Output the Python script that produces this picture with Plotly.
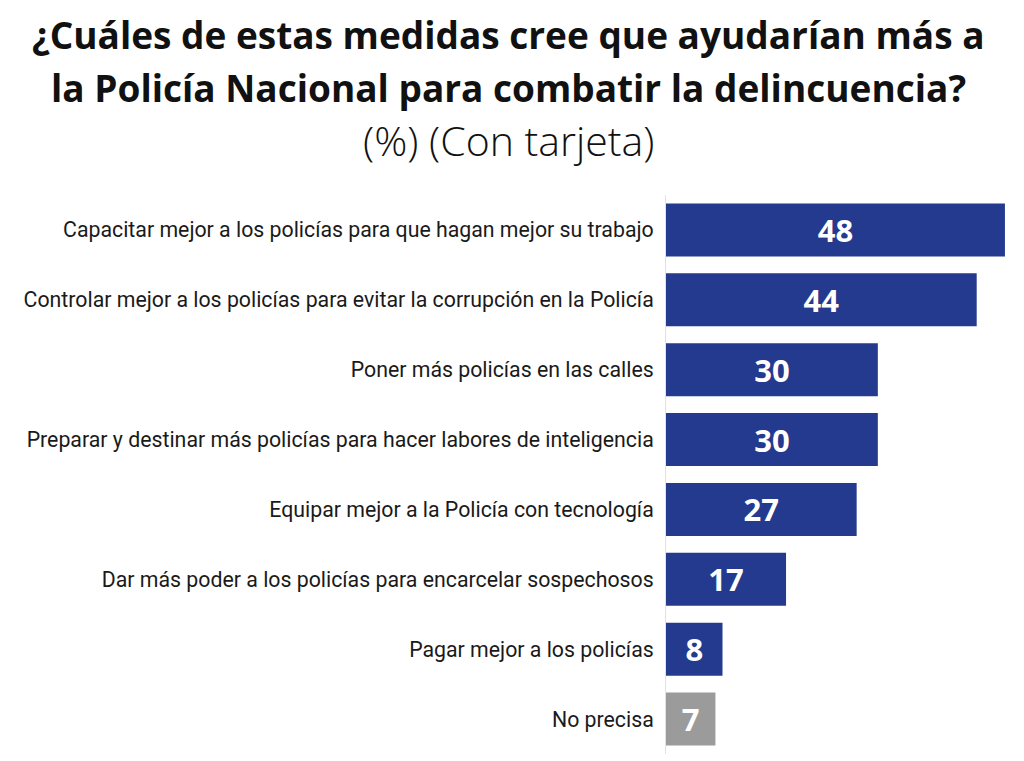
import plotly.graph_objects as go

# Survey answers (top to bottom as shown)
medidas = [
    "Capacitar mejor a los policías para que hagan mejor su trabajo",
    "Controlar mejor a los policías para evitar la corrupción en la Policía",
    "Poner más policías en las calles",
    "Preparar y destinar más policías para hacer labores de inteligencia",
    "Equipar mejor a la Policía con tecnología",
    "Dar más poder a los policías para encarcelar sospechosos",
    "Pagar mejor a los policías",
    "No precisa",
]
porcentajes = [48, 44, 30, 30, 27, 17, 8, 7]

title_lines = [
    "<b>¿Cuáles de estas medidas cree que ayudarían más a</b>",
    "<b>la Policía Nacional para combatir la delincuencia?</b>",
    "(%) (Con tarjeta)",
]

blue = "#233a8e"
gray = "#9b9b9b"
bar_colors = [gray if m == "No precisa" else blue for m in medidas]

fig = go.Figure()
fig.add_trace(go.Bar(
    x=porcentajes,
    y=medidas,
    orientation="h",
    marker=dict(color=bar_colors, line=dict(width=0)),
    text=[str(v) for v in porcentajes],
    textposition="inside",
    insidetextanchor="middle",
    textangle=0,
    textfont=dict(family="Open Sans", size=31, color="white", weight="bold"),
    hoverinfo="skip",
))

# page has an 8px body margin, so the figure itself starts at (8, 8)
top_px, bot_px = 187, 746
title_y_px = [27, 80, 132]
title_sizes = [37, 37, 41]
title_weights = ["bold", "bold", 300]
annotations = []
for line, ypx, size, w in zip(title_lines, title_y_px, title_sizes, title_weights):
    annotations.append(dict(
        text=line,
        xref="paper", yref="paper",
        x=-0.441, y=(bot_px - ypx) / (bot_px - top_px),
        xanchor="center", yanchor="middle",
        showarrow=False,
        font=dict(family="Open Sans", size=size, color="#111111", weight=w),
    ))

fig.update_layout(
    width=1016,
    height=753,
    margin=dict(l=658, r=0, t=187, b=7),
    paper_bgcolor="white",
    plot_bgcolor="white",
    bargap=0.24,
    showlegend=False,
    annotations=annotations,
    uniformtext_minsize=8,
    uniformtext_mode="show",
)
fig.update_xaxes(range=[0, 50.7], visible=False, fixedrange=True)
fig.update_yaxes(
    autorange="reversed",
    automargin=False,
    showline=True,
    linecolor="#e2e2e2",
    linewidth=1,
    showgrid=False,
    ticks="",
    ticklabelstandoff=7,
    tickfont=dict(family="Roboto", size=21.3, color="#1a1a1a"),
    fixedrange=True,
)

fig.write_html("out.html")
